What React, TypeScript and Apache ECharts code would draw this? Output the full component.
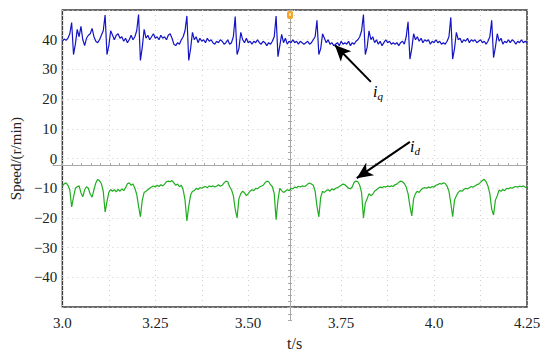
import React, { useEffect, useRef } from "react";
import * as echarts from "echarts";

const T0 = 3.0;
const DT = 0.005;

const iqValues = [
  39.5, 40.2, 39.8, 40.5, 42, 45.8, 35, 38.5, 43.5, 41,
  44.5, 40, 38, 40.5, 41.5, 42, 43.8, 41, 39.5, 39,
  40, 41.5, 43, 48.3, 35, 38, 43, 41.5, 40, 41.5,
  42, 40.5, 41, 39.5, 40.5, 39, 40, 41.5, 40, 41,
  43, 48.5, 33, 37.5, 43.5, 40.5, 41.5, 40, 41, 42,
  40.5, 41, 40, 41.5, 40.5, 41, 40, 41.5, 42, 40.5,
  38.5, 38, 39, 38.5, 40, 41, 43, 48, 33, 37,
  42.5, 40, 41, 39, 40.5, 39.5, 40, 39, 40.5, 39.5,
  40, 39, 38.5, 39.5, 39, 40, 39.5, 38.5, 39, 40,
  38.5, 39, 41, 47.8, 35, 37, 42.5, 40, 39, 40.5,
  39, 39.5, 38.5, 39.5, 39, 40, 39, 38.5, 39.5, 39,
  38, 39, 38.5, 39.5, 41, 48, 34.3, 38, 41.8, 39,
  40.5, 38.5, 39.5, 39, 40, 39, 39.5, 38.5, 39.5, 39,
  38.5, 39, 39.5, 38.5, 39, 40, 41, 46.5, 35, 37,
  42, 40.5, 39, 40, 38.5, 39, 38, 38.5, 39, 38,
  39.5, 38.5, 39, 38.5, 39.5, 38, 39, 38.5, 39.5, 40,
  41, 43, 48.5, 35, 37.5, 43, 40, 41, 39, 40,
  38.5, 39.5, 38, 39, 40, 39, 39.5, 38.5, 39, 38.5,
  39, 38, 39, 39.5, 38.5, 41, 46, 33.5, 37, 42,
  40, 41, 39.5, 40.5, 39, 40, 39.5, 40, 38.5, 39.5,
  39, 40, 39, 39.5, 38.5, 39, 38.5, 39.5, 41, 47.5,
  33.5, 37, 42.5, 40, 40.5, 39, 40, 39.5, 40.5, 39,
  40, 39.5, 40, 39, 39.5, 40, 39, 39.5, 38.5, 39.5,
  41, 46.5, 34, 37.5, 42, 39.5, 40.5, 38.5, 39.5, 39,
  40, 39, 40, 39.5, 38.5, 39.5, 39, 40, 39, 39.5,
  39,
];

const idValues = [
  -9.3, -8.5, -8.2, -9, -10.5, -16.3, -13, -10, -9.5, -9.2,
  -11.5, -12.9, -10.5, -9.5, -10, -12, -13, -10.5, -8.2, -7,
  -7.5, -8.5, -11, -18, -14.5, -11.4, -10.4, -11, -10.5, -11.2,
  -10.4, -11, -10.2, -10.8, -9.8, -8.5, -8.2, -9, -8.6, -10,
  -12, -16, -19.6, -14, -11.4, -11, -10.5, -10, -9.6, -9.2,
  -9.6, -9, -9.4, -8.8, -9.2, -8.6, -7.8, -7.6, -7.8, -7.4,
  -8.2, -9, -8.6, -9.5, -9, -10.5, -14, -21, -16, -12.3,
  -11, -10.8, -10, -10.4, -9.8, -10, -9.6, -9.4, -9.8, -9.2,
  -9.5, -9.2, -9.6, -9.3, -8.8, -9.3, -9, -8.2, -7.6, -7.8,
  -9.5, -10.5, -12.5, -17, -20, -13.5, -11.8, -11, -11.5, -12.5,
  -11.8, -11, -10.5, -10.8, -10, -10.2, -9.6, -9.3, -9, -8.2,
  -7.6, -7.8, -8.8, -9.5, -11.8, -20.6, -14, -10, -10.8, -11.4,
  -11, -10.5, -10.8, -10, -10.2, -9.6, -9.8, -9.3, -9.6, -9.2,
  -9.4, -9.2, -8.6, -8.2, -8.6, -9, -11, -16, -19.6, -13,
  -11, -11.4, -10.8, -10.5, -11, -10.2, -10.6, -10, -9.8, -9.4,
  -9, -8.6, -8.8, -9.4, -10, -10.2, -9.5, -8, -7.6, -7.8,
  -9, -11.5, -20, -15, -13.5, -11.8, -12.5, -12, -11, -10.5,
  -10, -9.6, -9.8, -9.4, -9.6, -9.2, -9.5, -9.2, -9.4, -8.8,
  -8.6, -8, -7.6, -7.8, -8.4, -9.6, -11.8, -16, -19.3, -13.5,
  -11.8, -11, -11.4, -10.5, -10, -9.8, -10, -9.6, -9.8, -9.4,
  -9.6, -9, -8.8, -8.4, -8.6, -8.2, -8.4, -9.3, -11, -15,
  -19.6, -14, -12.5, -11.4, -10.8, -11, -10.4, -10, -10.2, -9.8,
  -9.4, -9.6, -9.2, -8.8, -8.6, -8, -7.4, -7, -7.8, -9.3,
  -11.8, -17, -19, -14, -12.5, -10.6, -11, -10.4, -10.8, -10,
  -10.2, -9.8, -10, -9.6, -9.4, -9.6, -9.3, -9.5, -9.2, -9.6,
  -9.8,
];

const xTickLabels = ["3.0", "3.25", "3.50", "3.75", "4.0", "4.25"];
const yTickValues = [-40, -30, -20, -10, 0, 10, 20, 30, 40];

// annotation arrows: [tip, tail] in data coordinates
const iqArrow = [[3.733, 38.2], [3.83, 25.8]];
const idArrow = [[3.792, -6.6], [3.935, 5.6]];

const SERIF = "Liberation Serif";

export default function App() {
  const ref = useRef<HTMLDivElement>(null);
  useEffect(() => {
    if (!ref.current) return;
    document.body.style.margin = "0";
    const chart = echarts.init(ref.current, undefined, { renderer: "svg" });
    const iqData = iqValues.map((v, i) => [T0 + i * DT, v]);
    const idData = idValues.map((v, i) => [T0 + i * DT, v]);
    const grid = { left: 53, right: 23, top: 10, bottom: 36 };
    const centerLine = { show: true, lineStyle: { color: "#a8a8a8", width: 1 } };
    const arrowLine = (pts: number[][]) => ({
      silent: true,
      symbol: ["arrow", "none"],
      symbolSize: [11, 16],
      lineStyle: { color: "#000", width: 2, type: "solid" },
      label: { show: false },
      data: [[{ coord: pts[0] }, { coord: pts[1] }]],
    });
    const rich = {
      i: { fontFamily: SERIF, fontStyle: "italic", fontSize: 16, color: "#222" },
      s: { fontFamily: SERIF, fontStyle: "italic", fontSize: 11, color: "#222", padding: [8, 0, 0, 0] },
    };
    chart.setOption({
      animation: false,
      textStyle: { fontFamily: SERIF },
      grid: [
        { ...grid, show: true, borderColor: "#3a3a3a", borderWidth: 1.5, backgroundColor: "#fff" },
        { ...grid },
      ],
      xAxis: [
        {
          type: "value",
          gridIndex: 0,
          min: 3.0,
          max: 4.25,
          interval: 0.125,
          axisLine: { show: false },
          axisTick: { show: false },
          splitLine: { show: true, lineStyle: { color: "#cfcfcf", type: [1, 4], width: 1 } },
          axisLabel: {
            color: "#222",
            fontFamily: SERIF,
            fontSize: 15,
            margin: 8,
            formatter: (v: number) => {
              const k = Math.round((v - 3) / 0.125);
              return k % 2 === 0 ? xTickLabels[k / 2] : "";
            },
          },
          name: "t/s",
          nameLocation: "middle",
          nameGap: 23,
          nameTextStyle: { color: "#222", fontFamily: SERIF, fontSize: 16 },
        },
        {
          type: "value",
          gridIndex: 1,
          min: 3.0,
          max: 4.25,
          interval: 0.025,
          axisLine: { ...centerLine, onZero: true },
          axisTick: { show: true, inside: true, length: 2, lineStyle: { color: "#a8a8a8" } },
          axisLabel: { show: false },
          splitLine: { show: false },
        },
        {
          type: "value",
          gridIndex: 1,
          min: 3.0,
          max: 4.25,
          interval: 0.025,
          axisLine: { show: false, onZero: true },
          axisTick: { show: true, inside: false, length: 2, lineStyle: { color: "#a8a8a8" } },
          axisLabel: { show: false },
          splitLine: { show: false },
        },
      ],
      yAxis: [
        {
          type: "value",
          gridIndex: 0,
          min: -50,
          max: 50,
          interval: 10,
          axisLine: { show: false },
          axisTick: { show: false },
          splitLine: { show: true, lineStyle: { color: "#cfcfcf", type: [1, 4], width: 1 } },
          axisLabel: {
            color: "#222",
            fontFamily: SERIF,
            fontSize: 15,
            margin: 5,
            formatter: (v: number) => {
              if (!yTickValues.includes(v)) return "";
              return v < 0 ? "\u2212" + Math.abs(v) : String(v);
            },
          },
          name: "Speed/(r/min)",
          nameLocation: "middle",
          nameGap: 36,
          nameTextStyle: { color: "#222", fontFamily: SERIF, fontSize: 15 },
        },
        {
          type: "value",
          gridIndex: 1,
          min: -50,
          max: 50,
          interval: 2,
          position: "left",
          offset: -237,
          axisLine: centerLine,
          axisTick: { show: true, inside: true, length: 2, lineStyle: { color: "#a8a8a8" } },
          axisLabel: { show: false },
          splitLine: { show: false },
        },
        {
          type: "value",
          gridIndex: 1,
          min: -50,
          max: 50,
          interval: 2,
          position: "left",
          offset: -237,
          axisLine: { show: false },
          axisTick: { show: true, inside: false, length: 2, lineStyle: { color: "#a8a8a8" } },
          axisLabel: { show: false },
          splitLine: { show: false },
        },
      ],
      series: [
        {
          name: "iq",
          type: "line",
          xAxisIndex: 0,
          yAxisIndex: 0,
          data: iqData,
          showSymbol: false,
          lineStyle: { color: "#1414c4", width: 1.2 },
          z: 5,
          markLine: arrowLine(iqArrow),
        },
        {
          name: "id",
          type: "line",
          xAxisIndex: 0,
          yAxisIndex: 0,
          data: idData,
          showSymbol: false,
          lineStyle: { color: "#1fae1f", width: 1.2 },
          z: 5,
          markLine: arrowLine(idArrow),
        },
      ],
      graphic: [
        {
          type: "rect",
          shape: { x: 287, y: 11, width: 6, height: 8, r: 2 },
          style: { fill: "#f4a428" },
          z: 100,
        },
        {
          type: "rect",
          shape: { x: 289, y: 13, width: 2, height: 3 },
          style: { fill: "#fde0a0" },
          z: 101,
        },
        {
          type: "text",
          x: 373,
          y: 82,
          style: { text: "{i|i}{s|q}", rich },
          z: 100,
        },
        {
          type: "text",
          x: 410,
          y: 137,
          style: { text: "{i|i}{s|d}", rich },
          z: 100,
        },
      ],
    });
    return () => chart.dispose();
  }, []);
  return (
    <div
      ref={ref}
      style={{ width: 550, height: 356, position: "absolute", left: 0, top: 0 }}
    />
  );
}
